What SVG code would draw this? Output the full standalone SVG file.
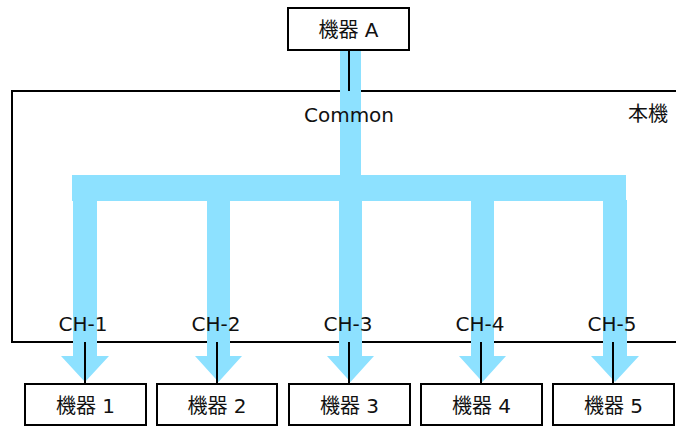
<svg xmlns="http://www.w3.org/2000/svg" width="676" height="426" viewBox="0 0 676 426">
<style>
.box{fill:#fff;stroke:#000;stroke-width:2}
.frame{fill:none;stroke:#000;stroke-width:2}
.flow{fill:#8DE1FF;stroke:none}
.wire{stroke:#000;stroke-width:2;fill:none}
text{font-family:"DejaVu Sans","Noto Sans CJK JP",sans-serif;font-size:20px;fill:#111}
.m{text-anchor:middle}
</style>
<g id="main">
<rect class="frame" x="12" y="91" width="700" height="251"/>
</g>
<g id="connectors">
<rect class="flow" x="340" y="50" width="21" height="130"/>
<rect class="flow" x="72" y="175" width="554" height="26"/>
<path class="flow" d="M73,200 H97 V356 H109 L85,382 L61,356 H73 Z"/>
<path class="flow" d="M207,200 H230 V356 H242 L218.5,382 L195,356 H207 Z"/>
<path class="flow" d="M339,200 H362 V356 H374 L350.5,382 L327,356 H339 Z"/>
<path class="flow" d="M471,200 H494 V356 H506 L482.5,382 L459,356 H471 Z"/>
<path class="flow" d="M603,200 H627 V356 H639 L615,382 L591,356 H603 Z"/>
<line class="wire" x1="349" y1="50" x2="349" y2="91"/>
<line class="wire" x1="85" y1="342" x2="85" y2="384"/>
<line class="wire" x1="217" y1="342" x2="217" y2="384"/>
<line class="wire" x1="349" y1="342" x2="349" y2="384"/>
<line class="wire" x1="481" y1="342" x2="481" y2="384"/>
<line class="wire" x1="613" y1="342" x2="613" y2="384"/>
</g>
<g id="labels">
<text class="m" x="349" y="122">Common</text>
<text x="628" y="121">本機</text>
<text class="m" x="83" y="331">CH-1</text>
<text class="m" x="216" y="331">CH-2</text>
<text class="m" x="348" y="331">CH-3</text>
<text class="m" x="480" y="331">CH-4</text>
<text class="m" x="612" y="331">CH-5</text>
</g>
<g id="deviceA">
<rect class="box" x="288" y="8" width="121" height="42"/>
<text class="m" x="348.5" y="37">機器 A</text>
</g>
<g id="device1">
<rect class="box" x="25" y="384" width="121" height="41"/>
<text class="m" x="85.5" y="413">機器 1</text>
</g>
<g id="device2">
<rect class="box" x="157" y="384" width="120" height="41"/>
<text class="m" x="217" y="413">機器 2</text>
</g>
<g id="device3">
<rect class="box" x="289" y="384" width="121" height="41"/>
<text class="m" x="349.5" y="413">機器 3</text>
</g>
<g id="device4">
<rect class="box" x="421" y="384" width="121" height="41"/>
<text class="m" x="481.5" y="413">機器 4</text>
</g>
<g id="device5">
<rect class="box" x="553" y="384" width="121" height="41"/>
<text class="m" x="613.5" y="413">機器 5</text>
</g>
</svg>
